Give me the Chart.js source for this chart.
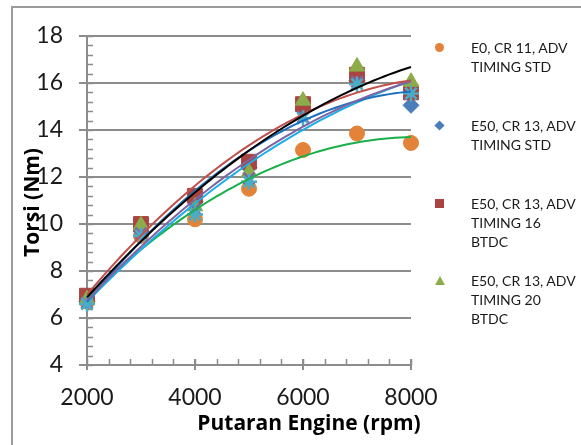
<!DOCTYPE html>
<html>
<head>
<meta charset="utf-8">
<script src="https://cdn.jsdelivr.net/npm/chart.js@4/dist/chart.umd.min.js"></script>
<style>
  body { margin: 0; background: #fff; }
  #wrap { position: relative; width: 581px; height: 445px; overflow: hidden; }
  #legend { position: absolute; left: 432px; top: 0; font-family: Lato, sans-serif; font-size: 14px; color: #1a1a1a; }
  .item { position: absolute; left: 0; width: 150px; line-height: 19px; }
  .item .txt { position: absolute; left: 39px; top: 0; white-space: nowrap; }
  .mk { position: absolute; left: 3px; top: 5px; width: 9px; height: 9px; }
</style>
</head>
<body>
<div id="wrap">
  <canvas id="chart" width="581" height="445"></canvas>
  <div id="legend"></div>
</div>
<script>
// data
const rpm = [2000, 3000, 4000, 5000, 6000, 7000, 8000];
const e0Std = [6.7, 9.5, 10.2, 11.5, 13.15, 13.85, 13.45];
const e50Std = [6.7, 9.7, 10.95, 12.4, 14.85, 16.1, 15.05];
const e50Adv16 = [6.95, 10.0, 11.2, 12.65, 15.1, 16.35, 15.6];
const e50Adv20 = [6.8, 9.95, 10.75, 12.2, 15.25, 16.7, 16.05];
const series5 = [6.65, 9.6, 10.65, 11.95, 14.55, 16.05, 15.55];
const series6 = [6.6, 9.5, 10.4, 11.8, 14.5, 15.95, 15.55];

const legendLabels = [
  ["E0, CR 11, ADV", "TIMING STD"],
  ["E50, CR 13, ADV", "TIMING STD"],
  ["E50, CR 13, ADV", "TIMING 16", "BTDC"],
  ["E50, CR 13, ADV", "TIMING 20", "BTDC"],
];

const yTicks = [4, 6, 8, 10, 12, 14, 16, 18];
const xTicks = [2000, 4000, 6000, 8000];

const FONT = "Lato, 'Open Sans', sans-serif";
const TITLE_FONT = "'Open Sans', Lato, sans-serif";
const GRID = "#8c8c8c";

// 2nd order polynomial trendline (least squares), like Excel's
function polyFit2(xs, ys) {
  let n = xs.length, s1 = 0, s2 = 0, s3 = 0, s4 = 0, sy = 0, sxy = 0, sx2y = 0;
  for (let i = 0; i < n; i++) {
    const x = xs[i] / 1000, y = ys[i];
    s1 += x; s2 += x * x; s3 += x * x * x; s4 += x * x * x * x;
    sy += y; sxy += x * y; sx2y += x * x * y;
  }
  const M = [[n, s1, s2, sy], [s1, s2, s3, sxy], [s2, s3, s4, sx2y]];
  for (let c = 0; c < 3; c++) {
    for (let r = c + 1; r < 3; r++) {
      const f = M[r][c] / M[c][c];
      for (let k = c; k < 4; k++) M[r][k] -= f * M[c][k];
    }
  }
  const coef = [0, 0, 0];
  for (let r = 2; r >= 0; r--) {
    let s = M[r][3];
    for (let k = r + 1; k < 3; k++) s -= M[r][k] * coef[k];
    coef[r] = s / M[r][r];
  }
  return coef;
}

function trend(ys) {
  const c = polyFit2(rpm, ys);
  const pts = [];
  for (let x = rpm[0]; x <= rpm[rpm.length - 1]; x += 100) {
    const t = x / 1000;
    pts.push({ x: x, y: c[0] + c[1] * t + c[2] * t * t });
  }
  return pts;
}

function toPoints(ys) {
  return rpm.map((x, i) => ({ x: x, y: ys[i] }));
}

function trendSet(ys, color) {
  return {
    label: "trend",
    data: trend(ys),
    showLine: true,
    borderColor: color,
    borderWidth: 2,
    pointRadius: 0,
    tension: 0,
    order: 0,
    clip: false,
  };
}

function markerSet(label, ys, style, color, radius, order) {
  const lined = style === "crossRot" || style === "star";
  return {
    label: label,
    data: toPoints(ys),
    pointStyle: style,
    pointRadius: radius,
    backgroundColor: color,
    borderColor: color,
    borderWidth: lined ? 2.5 : 1,
    order: order,
    clip: false,
  };
}

const datasets = [
  trendSet(e50Adv20, "#000000"),
  trendSet(e50Adv16, "#c0504d"),
  trendSet(series5, "#8064a2"),
  trendSet(e50Std, "#1f6fc0"),
  trendSet(series6, "#1aaee8"),
  trendSet(e0Std, "#19b04b"),
  markerSet("E0, CR 11, ADV TIMING STD", e0Std, "circle", "rgb(226,131,57)", 7.5, 6),
  markerSet("E50, CR 13, ADV TIMING STD", e50Std, "rectRot", "rgb(74,126,187)", 8, 5),
  markerSet("E50, CR 13, ADV TIMING 16 BTDC", e50Adv16, "rect", "rgb(170,68,64)", 10.5, 4),
  markerSet("E50, CR 13, ADV TIMING 20 BTDC", e50Adv20, "triangle", "rgb(140,172,74)", 9, 3),
  markerSet("Series 5", series5, "crossRot", "rgb(128,100,162)", 8, 2),
  markerSet("Series 6", series6, "star", "rgb(75,172,198)", 8, 1),
];

// frame, minor ticks and axis titles
const extras = {
  id: "extras",
  beforeDraw(chart) {
    const ctx = chart.ctx;
    ctx.save();
    ctx.fillStyle = "#fff";
    ctx.fillRect(0, 0, chart.width, chart.height);
    ctx.strokeStyle = "#9a9a9a";
    ctx.lineWidth = 2;
    ctx.strokeRect(12, 7, chart.width + 20, chart.height + 20);
    ctx.restore();
  },
  beforeDatasetsDraw(chart) {
    const ctx = chart.ctx, xs = chart.scales.x, ys = chart.scales.y;
    const a = chart.chartArea;
    ctx.save();
    ctx.strokeStyle = GRID;
    ctx.lineWidth = 1.5;
    ctx.beginPath();
    for (let v = 4; v <= 18.001; v += 0.4) {
      const py = Math.round(ys.getPixelForValue(v)) + 0.5;
      ctx.moveTo(a.left, py);
      ctx.lineTo(a.left + 6, py);
    }
    for (let v = 2000; v <= 8000; v += 400) {
      const px = Math.round(xs.getPixelForValue(v)) + 0.5;
      ctx.moveTo(px, a.bottom);
      ctx.lineTo(px, a.bottom - 6);
    }
    ctx.stroke();
    ctx.lineWidth = 2;
    ctx.beginPath();
    xTicks.forEach(v => {
      const px = Math.round(xs.getPixelForValue(v));
      ctx.moveTo(px, a.bottom - 6);
      ctx.lineTo(px, a.bottom + 5);
    });
    ctx.stroke();
    ctx.restore();
  },
  afterDraw(chart) {
    const ctx = chart.ctx, a = chart.chartArea;
    ctx.save();
    ctx.fillStyle = "#000";
    ctx.font = "bold 21px " + TITLE_FONT;
    ctx.textAlign = "center";
    ctx.textBaseline = "middle";
    ctx.fillText("Putaran Engine (rpm)", a.left + 222, a.bottom + 59);
    ctx.translate(a.left - 54, (a.top + a.bottom) / 2 + 2);
    ctx.rotate(-Math.PI / 2);
    ctx.fillText("Torsi (Nm)", 0, 0);
    ctx.restore();
  },
};

new Chart(document.getElementById("chart").getContext("2d"), {
  type: "scatter",
  data: { datasets: datasets },
  plugins: [extras],
  options: {
    responsive: false,
    animation: false,
    layout: { padding: { left: 0, right: 170, top: 36, bottom: 0 } },
    plugins: { legend: { display: false }, tooltip: { enabled: false } },
    scales: {
      x: {
        type: "linear",
        min: 2000,
        max: 8000,
        afterFit(s) { s.height = 80; },
        afterBuildTicks(s) { s.ticks = xTicks.map(v => ({ value: v })); },
        grid: { display: false, drawTicks: false },
        border: { color: GRID, width: 2 },
        ticks: {
          font: { family: FONT, size: 23 },
          color: "#1a1a1a",
          padding: 19,
          maxRotation: 0,
          callback: v => String(v),
        },
      },
      y: {
        min: 4,
        max: 18,
        afterFit(s) { s.width = 87; },
        afterBuildTicks(s) { s.ticks = yTicks.map(v => ({ value: v })); },
        grid: { color: GRID, lineWidth: 2, tickLength: 8 },
        border: { color: GRID, width: 2 },
        ticks: { font: { family: FONT, size: 23 }, color: "#1a1a1a", padding: 16, callback: v => String(v) },
      },
    },
  },
});

// legend, laid out as in the reference (only four entries are visible)
const legendColors = ["rgb(226,131,57)", "rgb(74,126,187)", "rgb(170,68,64)", "rgb(140,172,74)"];
const legendShapes = ["circle", "diamond", "square", "triangle"];
const legendTops = [38, 116, 194, 271];
const legend = document.getElementById("legend");
legendLabels.forEach((lines, i) => {
  const item = document.createElement("div");
  item.className = "item";
  item.style.top = legendTops[i] + "px";
  const mk = document.createElement("div");
  mk.className = "mk";
  const col = legendColors[i];
  if (legendShapes[i] === "circle") {
    mk.style.background = col; mk.style.borderRadius = "50%";
  } else if (legendShapes[i] === "diamond") {
    mk.style.background = col; mk.style.transform = "rotate(45deg) scale(0.8)";
  } else if (legendShapes[i] === "square") {
    mk.style.background = col;
  } else {
    mk.style.width = "0"; mk.style.height = "0";
    mk.style.borderLeft = "5px solid transparent";
    mk.style.borderRight = "5px solid transparent";
    mk.style.borderBottom = "9px solid " + col;
  }
  item.appendChild(mk);
  const txt = document.createElement("div");
  txt.className = "txt";
  txt.innerHTML = lines.join("<br>");
  item.appendChild(txt);
  legend.appendChild(item);
});
</script>
</body>
</html>
